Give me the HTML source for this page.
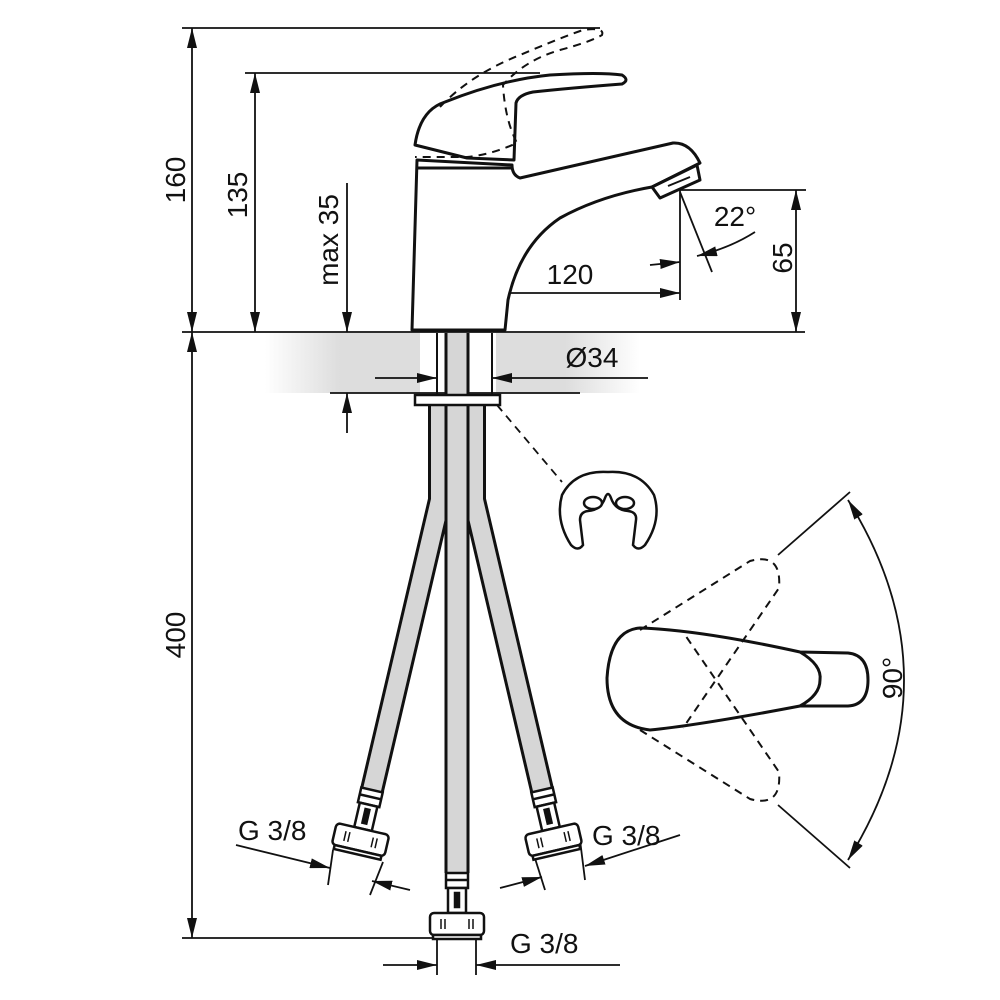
<!DOCTYPE html>
<html><head><meta charset="utf-8"><style>
html,body{margin:0;padding:0;background:#fff}
svg{display:block}
text{font-family:"Liberation Sans",sans-serif;font-size:28px;fill:#111}
</style></head><body>
<svg width="1000" height="1000" viewBox="0 0 1000 1000" xmlns="http://www.w3.org/2000/svg">
<defs>
<marker id="a" viewBox="0 0 20 10" refX="20" refY="5" markerWidth="20" markerHeight="10" markerUnits="userSpaceOnUse" orient="auto-start-reverse"><path d="M0,0L20,5L0,10z" fill="#111"/></marker>
<linearGradient id="g" x1="0" x2="1" y1="0" y2="0">
<stop offset="0" stop-color="#fff"/><stop offset="0.2" stop-color="#ddd"/><stop offset="0.8" stop-color="#ddd"/><stop offset="1" stop-color="#fff"/></linearGradient>
<g id="fit" stroke="#111" stroke-width="2.5" fill="#fff">
<rect x="-11" y="0" width="22" height="15"/>
<line x1="-11" y1="7" x2="11" y2="7"/>
<rect x="-9" y="15" width="18" height="25"/>
<rect x="-2" y="20" width="4" height="14" fill="#111"/>
<rect x="-27" y="40" width="54" height="22" rx="4"/>
<path d="M-16,46v10M-12,46v10M12,46v10M16,46v10" stroke-width="1.5"/>
<rect x="-24" y="62" width="48" height="4"/>
</g>
</defs>
<rect x="265" y="333" width="375" height="60" fill="url(#g)"/>
<rect x="420" y="333" width="76" height="60" fill="#fff"/>
<g stroke="#111" stroke-width="1.8" fill="none">
<line x1="182" y1="332" x2="805" y2="332"/>
<line x1="330" y1="393" x2="580" y2="393"/>
<line x1="182" y1="28" x2="600" y2="28"/>
<line x1="245" y1="73" x2="540" y2="73"/>
<line x1="182" y1="938" x2="440" y2="938"/>
<line x1="680" y1="190" x2="806" y2="190"/>
<line x1="192" y1="28" x2="192" y2="332" marker-start="url(#a)" marker-end="url(#a)"/>
<line x1="192" y1="332" x2="192" y2="938" marker-start="url(#a)" marker-end="url(#a)"/>
<line x1="255" y1="73" x2="255" y2="332" marker-start="url(#a)" marker-end="url(#a)"/>
<line x1="347" y1="183" x2="347" y2="332" marker-end="url(#a)"/>
<line x1="347" y1="433" x2="347" y2="393" marker-end="url(#a)"/>
<line x1="796" y1="190" x2="796" y2="332" marker-start="url(#a)" marker-end="url(#a)"/>
<line x1="457" y1="275" x2="457" y2="332"/>
<line x1="680" y1="190" x2="680" y2="300"/>
<line x1="457" y1="293" x2="680" y2="293" marker-start="url(#a)" marker-end="url(#a)"/>
<line x1="680" y1="192" x2="712" y2="272"/>
<path d="M650,265 L680,262" marker-end="url(#a)"/>
<path d="M755,232 Q730,248 697,256" marker-end="url(#a)"/>
<line x1="375" y1="378" x2="437" y2="378" marker-end="url(#a)"/>
<line x1="648" y1="378" x2="492" y2="378" marker-end="url(#a)"/>
<line x1="497" y1="405" x2="562" y2="482" stroke-dasharray="8,6"/>
<line x1="437" y1="935" x2="437" y2="975"/>
<line x1="476" y1="935" x2="476" y2="975"/>
<line x1="383" y1="965" x2="437" y2="965" marker-end="url(#a)"/>
<line x1="620" y1="965" x2="476" y2="965" marker-end="url(#a)"/>
<line x1="236" y1="845" x2="330" y2="868" marker-end="url(#a)"/>
<line x1="410" y1="890" x2="372" y2="881" marker-end="url(#a)"/>
<line x1="333" y1="850" x2="328" y2="885"/>
<line x1="383" y1="862" x2="370" y2="895"/>
<line x1="680" y1="835" x2="585" y2="866" marker-end="url(#a)"/>
<line x1="500" y1="888" x2="542" y2="877" marker-end="url(#a)"/>
<line x1="533" y1="852" x2="545" y2="890"/>
<line x1="580" y1="840" x2="585" y2="880"/>
</g>
<g stroke-linecap="butt" fill="none">
<path d="M440,395 L440,500 L372,790" stroke="#111" stroke-width="24"/>
<path d="M474,395 L474,500 L542,790" stroke="#111" stroke-width="24"/>
<path d="M440,395 L440,500 L372,790" stroke="#d6d6d6" stroke-width="18"/>
<path d="M474,395 L474,500 L542,790" stroke="#d6d6d6" stroke-width="18"/>
<line x1="457" y1="333" x2="457" y2="873" stroke="#111" stroke-width="25"/>
<line x1="457" y1="333" x2="457" y2="873" stroke="#d6d6d6" stroke-width="19"/>
<path d="M437,333V395M492,333V395" stroke="#111" stroke-width="2"/>
</g>
<rect x="415" y="395" width="85" height="10" fill="#fff" stroke="#111" stroke-width="2.5"/>
<use href="#fit" transform="translate(457,873)"/>
<use href="#fit" transform="translate(372,790) rotate(13)"/>
<use href="#fit" transform="translate(542,790) rotate(-13)"/>
<g stroke="#111" stroke-width="3" fill="#fff" stroke-linejoin="round">
<path d="M412,330 L417,160 L512,165 Q512,175 520,178 L673,143 Q690,142 700,163 L652,187 Q600,196 560,218 Q520,245 508,300 L505,330 Z"/>
<path d="M652,187 L660,198 L700,180 L697,165 Z"/>
<path d="M668,186 L690,177" stroke-width="2"/>
<line x1="417" y1="168" x2="512" y2="168"/>
<path d="M415,145 Q420,110 445,102 Q500,80 550,75 Q600,72 622,75 Q630,80 622,84 Q570,88 533,92 Q518,95 516,103 L514,160 L467,158 Z"/>
</g>
<g stroke="#111" stroke-width="2" fill="none" stroke-dasharray="8,6">
<path d="M440,107 Q470,75 520,55 Q560,38 583,30 Q605,27 602,35 Q590,42 560,50 Q525,60 503,85 Q505,120 517,143 Q490,155 467,157 L415,157"/>
</g>
<!-- clip -->
<g stroke="#111" stroke-width="2.5" fill="#fff">
<path d="M583,545 Q578,552 571,545 Q555,520 562,495 Q575,470 608,472 Q640,470 654,495 Q662,520 645,545 Q638,552 633,545 L636,520 Q637,512 628,511 Q615,510 611,498 Q608,490 605,498 Q601,510 588,511 Q580,512 580,520 Z"/>
<ellipse cx="593" cy="503" rx="9" ry="6"/>
<ellipse cx="625" cy="503" rx="9" ry="6"/>
</g>
<!-- top view lever -->
<g stroke="#111" stroke-width="2" fill="none" stroke-dasharray="8,6">
<path d="M640,630 L750,561 Q782,552 779,588 L683,728"/>
<path d="M640,730 L750,799 Q782,808 779,772 L683,632"/>
</g>
<path d="M640,628 Q700,630 800,652 L848,653 Q868,655 868,680 Q868,705 848,706 L800,706 Q700,725 650,730 Q607,725 607,678 Q610,630 640,628 Z" fill="none" stroke="#111" stroke-width="3"/>
<path d="M800,652 Q822,665 820,680 Q820,695 800,706" fill="none" stroke="#111" stroke-width="3"/>
<g stroke="#111" stroke-width="1.8" fill="none">
<line x1="778" y1="555" x2="850" y2="492"/>
<line x1="778" y1="805" x2="850" y2="868"/>
<path d="M848,500 Q960,680 848,860" marker-start="url(#a)" marker-end="url(#a)"/>
</g>
<text transform="translate(185,180) rotate(-90)" text-anchor="middle">160</text>
<text transform="translate(247,195) rotate(-90)" text-anchor="middle">135</text>
<text transform="translate(338,240) rotate(-90)" text-anchor="middle">max 35</text>
<text transform="translate(185,635) rotate(-90)" text-anchor="middle">400</text>
<text transform="translate(792,258) rotate(-90)" text-anchor="middle">65</text>
<text transform="translate(902,678) rotate(-90)" text-anchor="middle">90°</text>
<text x="570" y="284" text-anchor="middle">120</text>
<text x="735" y="226" text-anchor="middle">22°</text>
<text x="592" y="367" text-anchor="middle">Ø34</text>
<text x="238" y="840">G 3/8</text>
<text x="592" y="845">G 3/8</text>
<text x="510" y="953">G 3/8</text>
</svg>
</body></html>
